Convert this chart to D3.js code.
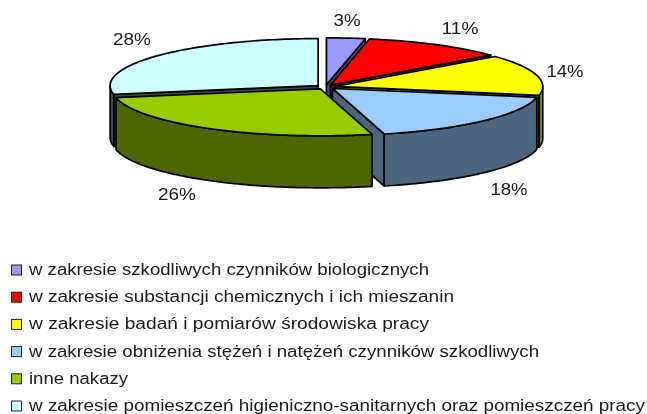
<!DOCTYPE html>
<html><head><meta charset="utf-8">
<script src="https://cdnjs.cloudflare.com/ajax/libs/d3/7.8.5/d3.min.js"></script>
<style>html,body{margin:0;padding:0;background:#fff}svg{display:block;filter:blur(.35px)}text{font-family:"Liberation Sans",Arial,sans-serif;fill:#1a1a1a}</style>
</head><body><svg id="c" width="647" height="414"></svg>
<script>
const categories = [
 "w zakresie szkodliwych czynników biologicznych",
 "w zakresie substancji chemicznych i ich mieszanin",
 "w zakresie badań i pomiarów środowiska pracy",
 "w zakresie obniżenia stężeń i natężeń czynników szkodliwych",
 "inne nakazy",
 "w zakresie pomieszczeń higieniczno-sanitarnych oraz pomieszczeń pracy"
];
const values = [3, 11, 14, 18, 26, 28];
const topColors = ["#9999ff","#ff0000","#ffff00","#99ccff","#99cc00","#ccffff"];
const sideColors = ["#4d4d80","#800000","#808000","#4d6680","#4d6600","#3a4a4a"];
const valueLabels = ["3%","11%","14%","18%","26%","28%"];

// layout
const W=647,H=414,cx=325.5,cy=87,rx=208,ry=47,depth=52,explode=0.046;
const labelPos=[[347,26],[460,34],[565,77],[509,195],[177,200],[132,45]];
const labelWidths=[27,37,37,37,38,38];
const legendWidths=[400,425,400,510,99,616];

const svg=d3.select("#c");
const sx=d3.scaleLinear().domain([-1,1]).range([-rx,rx]);
const sy=d3.scaleLinear().domain([-1,1]).range([-ry,ry]);
const pie=d3.pie().sort(null).value(d=>d);
const arcs=pie(values).map((a,i)=>{
  const mid=(a.startAngle+a.endAngle)/2;
  return {i,a0:a.startAngle,a1:a.endAngle,
    ox:cx+sx(Math.sin(mid)*explode),oy:cy+sy(-Math.cos(mid)*explode)};
});
const line=d3.line();
const pt=(s,t,dz=0)=>[s.ox+sx(Math.sin(t)),s.oy+sy(-Math.cos(t))+dz];
function arcPts(s,t0,t1,dz){
  const n=Math.max(2,Math.ceil(Math.abs(t1-t0)/0.02)),r=[];
  d3.range(n+1).forEach(k=>r.push(pt(s,t0+(t1-t0)*k/n,dz)));
  return r;
}
const g=svg.append("g").attr("stroke","#000").attr("stroke-width",1.7).attr("stroke-linejoin","round");
function face(pts,fill){g.append("path").attr("d",line(pts)+"Z").attr("fill",fill);}
function drawSlice(s){
  const side=sideColors[s.i],top=topColors[s.i],ap=[s.ox,s.oy],ap2=[s.ox,s.oy+depth];
  const pa=pt(s,s.a0),pb=pt(s,s.a1);
  // only the cut faces turned towards the viewer
  if(Math.sin(s.a1)>0) face([ap,pb,[pb[0],pb[1]+depth],ap2],side);
  if(Math.sin(s.a0)<0) face([ap,pa,[pa[0],pa[1]+depth],ap2],side);
  // outer wall: only the front half (pi/2 .. 3pi/2)
  const w0=Math.max(s.a0,Math.PI/2),w1=Math.min(s.a1,Math.PI*1.5);
  if(w1>w0) face(arcPts(s,w0,w1,0).concat(arcPts(s,w1,w0,depth)),side);
  // top
  face([ap].concat(arcPts(s,s.a0,s.a1,0)),top);
}
// back to front
[5,0,1,2,3,4].forEach(i=>drawSlice(arcs[i]));

// value labels
svg.append("g").selectAll("text").data(valueLabels).join("text")
  .attr("x",(d,i)=>labelPos[i][0]).attr("y",(d,i)=>labelPos[i][1])
  .attr("text-anchor","middle").attr("font-size",16)
  .attr("textLength",(d,i)=>labelWidths[i]).attr("lengthAdjust","spacingAndGlyphs").text(d=>d);

// legend
const ly=d3.scalePoint().domain(d3.range(categories.length)).range([270,406]);
const lg=svg.append("g").selectAll("g").data(categories).join("g")
  .attr("transform",(d,i)=>`translate(0,${ly(i)})`);
lg.append("rect").attr("x",11.5).attr("y",-5).attr("width",10).attr("height",10)
  .attr("fill",(d,i)=>topColors[i]).attr("stroke","#222").attr("stroke-width",1);
lg.append("text").attr("x",29).attr("y",5).attr("font-size",16)
  .attr("textLength",(d,i)=>legendWidths[i]).attr("lengthAdjust","spacingAndGlyphs").text(d=>d);
</script></body></html>
